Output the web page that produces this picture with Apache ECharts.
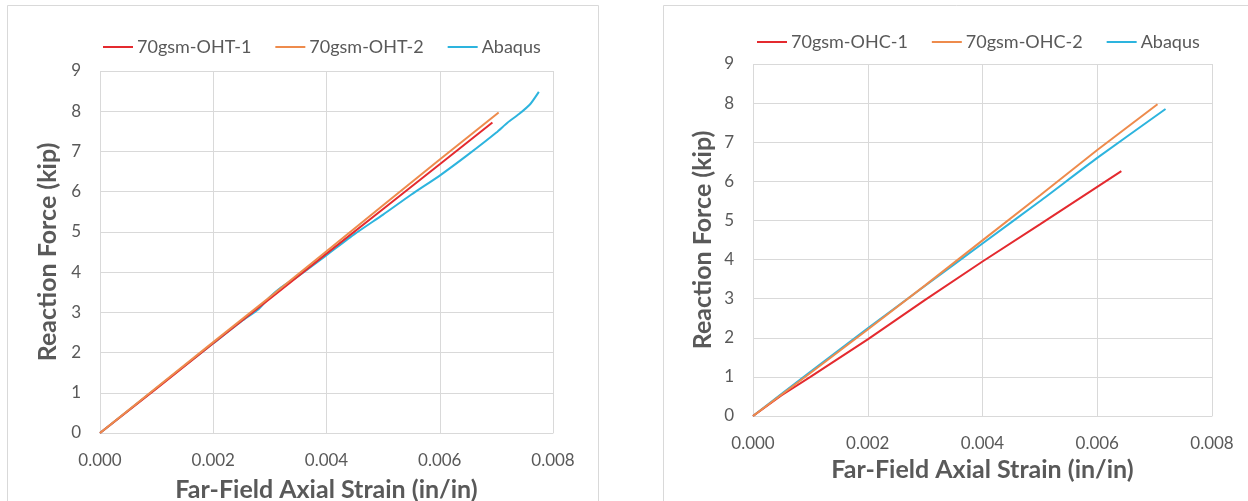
<!DOCTYPE html>
<html>
<head>
<meta charset="utf-8">
<script src="https://cdn.jsdelivr.net/npm/echarts@6/dist/echarts.min.js"></script>
<style>
  html, body { margin: 0; padding: 0; background: #fff; }
  #chart { width: 1248px; height: 501px; }
</style>
</head>
<body>
<div id="chart"></div>
<script>
// left panel: open-hole tension
const ohtNames = ["70gsm-OHT-1", "70gsm-OHT-2", "Abaqus "];
const oht1Strain = [0, 0.001, 0.002, 0.003, 0.004, 0.005, 0.006, 0.00693];
const oht1Force = [0, 1.11, 2.23, 3.34, 4.46, 5.57, 6.68, 7.72];
const oht2Strain = [0, 0.001, 0.002, 0.003, 0.004, 0.005, 0.006, 0.00704];
const oht2Force = [0, 1.13, 2.26, 3.38, 4.52, 5.66, 6.8, 7.97];
const ohtFeStrain = [0, 0.0005, 0.001, 0.0015, 0.002, 0.0025, 0.0028, 0.003, 0.0032, 0.0035, 0.004,
  0.0045, 0.005, 0.0055, 0.006, 0.0065, 0.007, 0.0072, 0.0074, 0.0076, 0.00775];
const ohtFeForce = [0, 0.56, 1.12, 1.68, 2.23, 2.78, 3.08, 3.38, 3.62, 3.9, 4.42,
  4.95, 5.43, 5.93, 6.4, 6.92, 7.47, 7.72, 7.93, 8.18, 8.48];

// right panel: open-hole compression
const ohcNames = ["70gsm-OHC-1", "70gsm-OHC-2", "Abaqus"];
const ohc1Strain = [0, 0.0005, 0.001, 0.002, 0.003, 0.004, 0.005, 0.006, 0.00642];
const ohc1Force = [0, 0.53, 1.0, 1.96, 2.97, 3.95, 4.9, 5.86, 6.26];
const ohc2Strain = [0, 0.001, 0.002, 0.003, 0.004, 0.005, 0.006, 0.00705];
const ohc2Force = [0, 1.1, 2.21, 3.34, 4.49, 5.64, 6.8, 7.97];
const ohcFeStrain = [0, 0.001, 0.002, 0.003, 0.004, 0.005, 0.006, 0.00719];
const ohcFeForce = [0, 1.13, 2.24, 3.33, 4.41, 5.49, 6.6, 7.85];

const xTicks = [0, 0.002, 0.004, 0.006, 0.008];
const yTicks = [0, 1, 2, 3, 4, 5, 6, 7, 8, 9];

const colors = ["#E42A2F", "#EE8B4C", "#2DB4DE"];
const textColor = "#595959";
const gridColor = "#D9D9D9";
const font = "Lato";

const pairs = (xs, ys) => xs.map((x, i) => [x, ys[i]]);

function xAxisOf(gridIndex, gap) {
  return {
    type: "value",
    gridIndex,
    min: xTicks[0],
    max: xTicks[xTicks.length - 1],
    interval: xTicks[1] - xTicks[0],
    name: "Far-Field Axial Strain (in/in)",
    nameLocation: "middle",
    nameGap: gap,
    nameTextStyle: { color: textColor, fontFamily: font, fontSize: 25, fontWeight: "bold" },
    axisLine: { show: true, lineStyle: { color: gridColor } },
    axisTick: { show: false },
    axisLabel: {
      color: textColor, fontFamily: font, fontSize: 17, margin: 19,
      formatter: (v) => v.toFixed(3),
    },
    splitLine: { show: true, lineStyle: { color: gridColor } },
  };
}

function yAxisOf(gridIndex, gap) {
  return {
    type: "value",
    gridIndex,
    min: yTicks[0],
    max: yTicks[yTicks.length - 1],
    interval: 1,
    name: "Reaction Force (kip)",
    nameLocation: "middle",
    nameRotate: 90,
    nameGap: gap,
    nameTextStyle: { color: textColor, fontFamily: font, fontSize: 25, fontWeight: "bold" },
    axisLine: { show: false },
    axisTick: { show: false },
    axisLabel: { color: textColor, fontFamily: font, fontSize: 17, margin: 19 },
    splitLine: { show: true, lineStyle: { color: gridColor } },
  };
}

function lineSeries(name, data, idx, axisIndex) {
  return {
    name,
    type: "line",
    xAxisIndex: axisIndex,
    yAxisIndex: axisIndex,
    data,
    showSymbol: false,
    symbol: "none",
    smooth: idx === 2 ? 0.2 : false,
    lineStyle: { color: colors[idx], width: 2 },
    itemStyle: { color: colors[idx] },
    silent: true,
    z: idx === 2 ? 3 : 4,
  };
}

function legendOf(names, left, top) {
  return {
    data: names,
    left,
    top,
    itemWidth: 30,
    itemHeight: 2,
    itemGap: 24,
    icon: "rect",
    selectedMode: false,
    textStyle: { color: textColor, fontFamily: font, fontSize: 18, padding: [0, 0, 0, -1] },
  };
}

const chart = echarts.init(document.getElementById("chart"));
chart.setOption({
  backgroundColor: "#fff",
  animation: false,
  graphic: [
    { type: "rect", shape: { x: 7.5, y: 5.5, width: 591, height: 520 },
      style: { fill: "none", stroke: gridColor, lineWidth: 1 } },
    { type: "rect", shape: { x: 663.5, y: 5.5, width: 620, height: 520 },
      style: { fill: "none", stroke: gridColor, lineWidth: 1 } },
  ],
  grid: [
    { left: 100, top: 71, width: 453, height: 362, outerBoundsMode: "none", containLabel: false },
    { left: 753, top: 64, width: 459, height: 352, outerBoundsMode: "none", containLabel: false },
  ],
  legend: [legendOf(ohtNames, 98, 33), legendOf(ohcNames, 752, 28)],
  xAxis: [xAxisOf(0, 44), xAxisOf(1, 41)],
  yAxis: [yAxisOf(0, 40), yAxisOf(1, 38)],
  series: [
    lineSeries(ohtNames[0], pairs(oht1Strain, oht1Force), 0, 0),
    lineSeries(ohtNames[1], pairs(oht2Strain, oht2Force), 1, 0),
    lineSeries(ohtNames[2], pairs(ohtFeStrain, ohtFeForce), 2, 0),
    lineSeries(ohcNames[0], pairs(ohc1Strain, ohc1Force), 0, 1),
    lineSeries(ohcNames[1], pairs(ohc2Strain, ohc2Force), 1, 1),
    lineSeries(ohcNames[2], pairs(ohcFeStrain, ohcFeForce), 2, 1),
  ],
});
</script>
</body>
</html>
